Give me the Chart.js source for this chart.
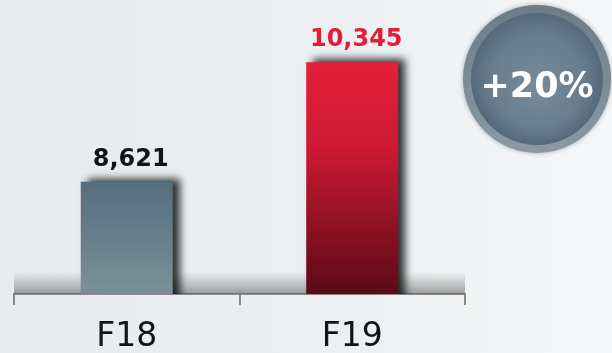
<!DOCTYPE html>
<html>
<head>
<meta charset="utf-8">
<script src="https://cdn.jsdelivr.net/npm/chart.js@4/dist/chart.umd.min.js"></script>
<style>
  html, body { margin: 0; padding: 0; background: #eceff1; }
  #wrap { width: 612px; height: 353px; position: relative; }
</style>
</head>
<body>
<div id="wrap"><canvas id="grafico"></canvas></div>
<script>
// Contagem anual — duas barras com rótulos de valor e selo de crescimento
const categorias = ['F18', 'F19'];
const valores = [8621, 10345];
const coresRotulo = ['#141414', '#e21d39'];
const eixoMin = 7000;
const eixoMax = 11100;

const FONTE = "'DejaVu Sans', 'Liberation Sans', sans-serif";

// gradiente vertical de cada barra, do topo (valor) até a base
const topoBase = [
    ['#546e7e', '#7b9098'],
    ['#e31e3a', '#5a0a18']
];

function corBarra(ctx) {
    const chart = ctx.chart;
    const area = chart.chartArea;
    if (!area) return topoBase[ctx.dataIndex][0];
    const y = chart.scales.y.getPixelForValue(valores[ctx.dataIndex]);
    const g = chart.ctx.createLinearGradient(0, y, 0, area.bottom);
    const [c0, c1] = topoBase[ctx.dataIndex];
    g.addColorStop(0, c0);
    if (ctx.dataIndex === 1) g.addColorStop(0.35, '#cf1a33');
    g.addColorStop(1, c1);
    return g;
}

const fundo = {
    id: 'fundo',
    beforeDraw(chart) {
        const { ctx, width, height } = chart;
        const g = ctx.createLinearGradient(0, 0, width, 0);
        g.addColorStop(0, '#e7ebee');
        g.addColorStop(0.6, '#edf0f2');
        g.addColorStop(1, '#f6f7f8');
        ctx.save();
        ctx.fillStyle = g;
        ctx.fillRect(0, 0, width, height);
        ctx.restore();
    }
};

// faixa de sombra sobre a linha da base + sombra projetada das barras
const sombras = {
    id: 'sombras',
    beforeDatasetsDraw(chart) {
        const { ctx, chartArea: a } = chart;
        const g = ctx.createLinearGradient(0, a.bottom - 22, 0, a.bottom);
        g.addColorStop(0, 'rgba(90,90,90,0)');
        g.addColorStop(1, 'rgba(90,90,90,0.55)');
        ctx.save();
        ctx.fillStyle = g;
        ctx.fillRect(a.left, a.bottom - 22, a.right - a.left, 22);
        ctx.restore();
    },
    beforeDatasetDraw(chart) {
        const ctx = chart.ctx;
        ctx.save();
        ctx.shadowColor = 'rgba(0,0,0,0.8)';
        ctx.shadowBlur = 8;
        ctx.shadowOffsetX = 7;
        ctx.shadowOffsetY = -3;
    },
    afterDatasetDraw(chart) {
        chart.ctx.restore();
    }
};

const rotulos = {
    id: 'rotulos',
    afterDatasetsDraw(chart) {
        const ctx = chart.ctx;
        const meta = chart.getDatasetMeta(0);
        ctx.save();
        ctx.font = 'bold 24px ' + FONTE;
        ctx.textAlign = 'center';
        ctx.textBaseline = 'alphabetic';
        meta.data.forEach((bar, i) => {
            ctx.fillStyle = coresRotulo[i];
            ctx.fillText(valores[i].toLocaleString('en-US'), bar.x + 4, bar.y - 16);
        });
        ctx.restore();
    }
};

// selo circular com a variação percentual entre os dois anos
const selo = {
    id: 'selo',
    afterDraw(chart) {
        const ctx = chart.ctx;
        const cx = 537, cy = 79, R = 74, r = 66;
        const pct = Math.round((valores[1] - valores[0]) / valores[0] * 100);
        ctx.save();
        ctx.shadowColor = 'rgba(0,0,0,0.3)';
        ctx.shadowBlur = 5;
        const anel = ctx.createLinearGradient(0, cy - R, 0, cy + R);
        anel.addColorStop(0, '#6c7d88');
        anel.addColorStop(1, '#8a9aa4');
        ctx.fillStyle = anel;
        ctx.beginPath();
        ctx.arc(cx, cy, R, 0, Math.PI * 2);
        ctx.fill();
        ctx.shadowColor = 'transparent';
        const disco = ctx.createRadialGradient(cx, cy + 10, 0, cx, cy, r);
        disco.addColorStop(0, '#778b9b');
        disco.addColorStop(0.7, '#6a7d8d');
        disco.addColorStop(1, '#56697a');
        ctx.fillStyle = disco;
        ctx.beginPath();
        ctx.arc(cx, cy, r, 0, Math.PI * 2);
        ctx.fill();
        ctx.fillStyle = '#ffffff';
        ctx.font = '600 35px ' + FONTE;
        ctx.textAlign = 'center';
        ctx.textBaseline = 'alphabetic';
        ctx.fillText((pct >= 0 ? '+' : '') + pct + '%', cx, cy + 18);
        ctx.restore();
    }
};

new Chart(document.getElementById('grafico'), {
    type: 'bar',
    data: {
        labels: categorias,
        datasets: [{
            data: valores,
            backgroundColor: corBarra,
            borderWidth: 0,
            categoryPercentage: 1,
            barPercentage: 0.408
        }]
    },
    options: {
        responsive: true,
        maintainAspectRatio: false,
        animation: false,
        layout: { padding: { left: 14, right: 147, top: 10, bottom: 0 } },
        plugins: {
            legend: { display: false },
            tooltip: { enabled: false }
        },
        scales: {
            y: {
                display: false,
                min: eixoMin,
                max: eixoMax
            },
            x: {
                offset: true,
                afterFit: (s) => { s.height = 59; },
                border: { display: true, color: '#8a8a8a', width: 2 },
                grid: {
                    offset: true,
                    drawOnChartArea: false,
                    drawTicks: true,
                    tickLength: 11,
                    color: '#8a8a8a',
                    lineWidth: 2
                },
                ticks: {
                    color: '#141414',
                    padding: 13,
                    font: { family: FONTE, size: 33 }
                }
            }
        }
    },
    plugins: [fundo, sombras, rotulos, selo]
});
</script>
</body>
</html>
